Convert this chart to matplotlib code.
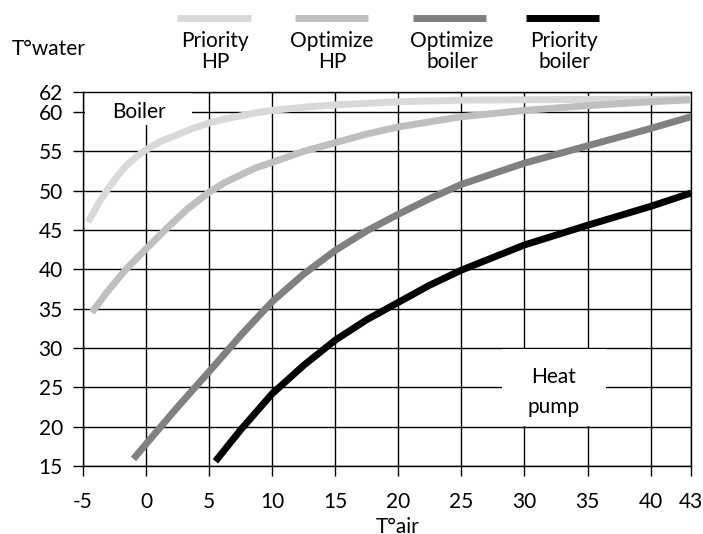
import matplotlib
matplotlib.use("Agg")
import matplotlib.pyplot as plt
from matplotlib.lines import Line2D
from matplotlib.patches import Rectangle

plt.rcParams['font.family'] = ['Lato', 'DejaVu Sans']

# Water temperature curves against outdoor air temperature
hp_prio_x = [-4.6, -3.8, -3, -2.2, -1.5, -0.7, 0, 1.2, 2.5, 3.7, 5, 6.2, 7.5, 8.7, 10, 12.5, 15, 17.5, 20, 25, 30, 35, 40, 43.2]
hp_prio_y = [46.0, 48.3, 50.3, 52.0, 53.3, 54.4, 55.2, 56.3, 57.1, 57.9, 58.6, 59.1, 59.5, 59.9, 60.2, 60.6, 60.9, 61.1, 61.3, 61.5, 61.55, 61.6, 61.6, 61.65]

hp_opt_x = [-4.3, -3.1, -1.6, 0, 1.7, 3.3, 5, 6.2, 7.5, 8.7, 10, 12.5, 15, 17.5, 20, 25, 30, 35, 40, 43.2]
hp_opt_y = [34.5, 37.1, 40.0, 42.6, 45.3, 47.7, 49.8, 51.0, 52.0, 52.9, 53.6, 55.0, 56.1, 57.2, 58.1, 59.4, 60.2, 60.8, 61.3, 61.55]

boiler_opt_x = [-1, 0, 2.5, 5, 7.5, 10, 12.5, 15, 17.5, 20, 22.5, 25, 30, 35, 40, 43.2]
boiler_opt_y = [15.9, 17.8, 22.5, 27.0, 31.6, 35.9, 39.4, 42.4, 44.9, 47.0, 49.0, 50.8, 53.5, 55.7, 57.9, 59.4]

boiler_prio_x = [5.5, 7.5, 10, 12.5, 15, 17.5, 20, 22.5, 25, 30, 35, 40, 43.2]
boiler_prio_y = [15.6, 19.6, 24.2, 27.8, 31.0, 33.6, 35.8, 38.0, 39.9, 43.1, 45.6, 48.0, 49.7]

series_labels = [("Priority", "HP"), ("Optimize", "HP"),
                 ("Optimize", "boiler"), ("Priority", "boiler")]
series_colors = ["#d9d9d9", "#bfbfbf", "#808080", "#000000"]

x_ticks = [-5, 0, 5, 10, 15, 20, 25, 30, 35, 40, 43.2]
x_tick_labels = ["-5", "0", "5", "10", "15", "20", "25", "30", "35", "40", "43"]
y_ticks = [15, 20, 25, 30, 35, 40, 45, 50, 55, 60, 62.5]
y_tick_labels = ["15", "20", "25", "30", "35", "40", "45", "50", "55", "60", "62"]

W, H = 703, 534
FS = 15
fig = plt.figure(figsize=(W / 100, H / 100), dpi=100)
ax = fig.add_axes([83 / W, 1 - 466 / H, (691 - 83) / W, (466 - 92.3) / H])


def px(x, y):
    return x / W, 1 - y / H


ax.set_xlim(x_ticks[0], x_ticks[-1])
ax.set_ylim(y_ticks[0], y_ticks[-1])
ax.set_xticks(x_ticks, labels=x_tick_labels)
ax.set_yticks(y_ticks, labels=y_tick_labels)
ax.set_axisbelow(True)
ax.grid(True, color="black", linewidth=1.0)
for sp in ax.spines.values():
    sp.set_color("black")
    sp.set_linewidth(1.0)
ax.tick_params(direction="out", length=7.5, width=1.0, color="black",
               labelsize=FS, labelcolor="black")
ax.tick_params(axis="x", pad=11)
ax.tick_params(axis="y", pad=7)

series = [(hp_prio_x, hp_prio_y), (hp_opt_x, hp_opt_y),
          (boiler_opt_x, boiler_opt_y), (boiler_prio_x, boiler_prio_y)]
for (xs, ys), c in zip(series, series_colors):
    ax.plot(xs, ys, color=c, linewidth=5, solid_capstyle="butt",
            solid_joinstyle="round", zorder=3)

# white label boxes over the grid
ax.add_patch(Rectangle((-4.85, 58.4), 8.5, 4.1, facecolor="white",
                       edgecolor="none", zorder=2))
ax.add_patch(Rectangle((28.2, 20.08), 8.25, 9.8, facecolor="white",
                       edgecolor="none", zorder=2))

fig.text(*px(139, 118), "Boiler", ha="center", va="baseline", fontsize=FS)
fig.text(*px(554, 383), "Heat", ha="center", va="baseline", fontsize=FS)
fig.text(*px(554, 413), "pump", ha="center", va="baseline", fontsize=FS)
fig.text(*px(12, 55), "T°water", ha="left", va="baseline", fontsize=FS)
fig.text(*px(398, 533), "T°air", ha="center", va="baseline", fontsize=FS)

# legend across the top
legend_lines = [(177, 251), (295, 368), (413, 486), (526, 599)]
legend_text_x = [215, 332, 452, 564]
for (x0, x1), tx, (l1, l2), c in zip(legend_lines, legend_text_x,
                                     series_labels, series_colors):
    fig.add_artist(Line2D([x0 / W, x1 / W], [1 - 17.5 / H] * 2,
                          transform=fig.transFigure, color=c, linewidth=5,
                          solid_capstyle="butt"))
    fig.text(*px(tx, 47), l1, ha="center", va="baseline", fontsize=FS)
    fig.text(*px(tx, 68), l2, ha="center", va="baseline", fontsize=FS)

fig.savefig("out.png", dpi=100)
